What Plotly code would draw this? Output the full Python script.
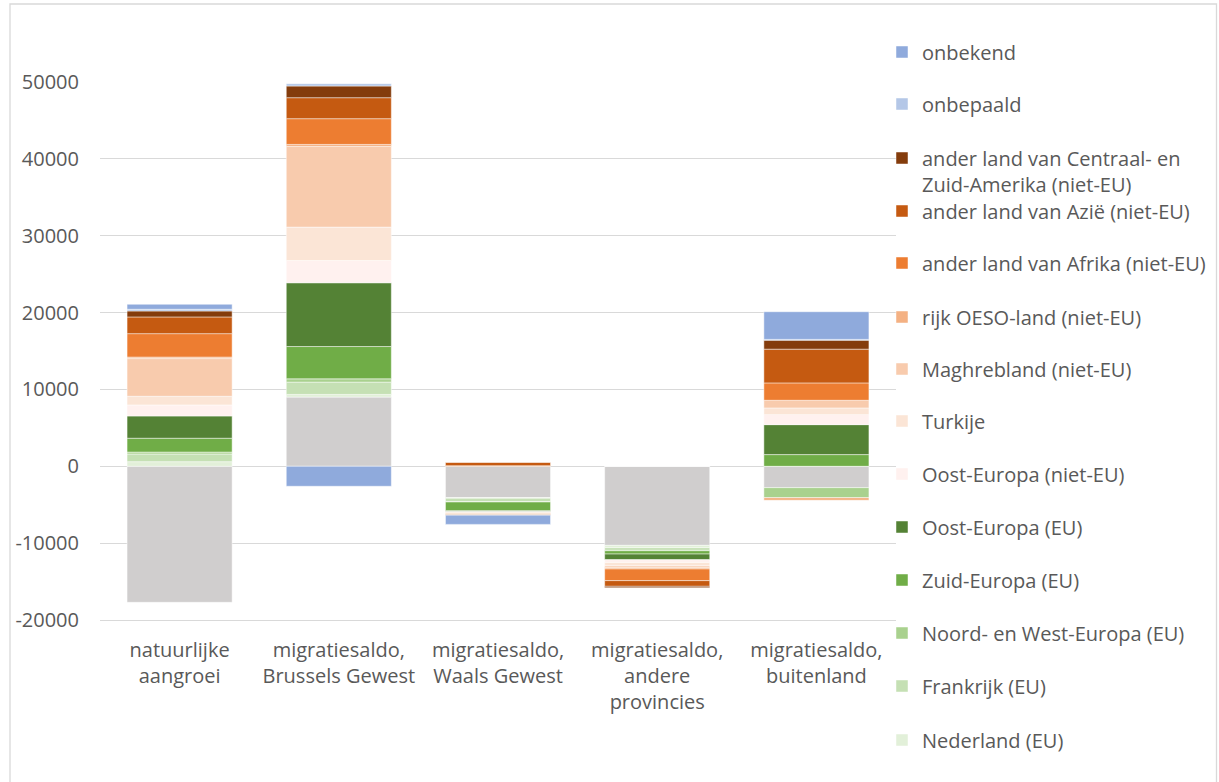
import plotly.graph_objects as go

categories = [
    "natuurlijke<br>aangroei",
    "migratiesaldo,<br>Brussels Gewest",
    "migratiesaldo,<br>Waals Gewest",
    "migratiesaldo,<br>andere<br>provincies",
    "migratiesaldo,<br>buitenland",
]

y_ticks = [-20000, -10000, 0, 10000, 20000, 30000, 40000, 50000]
y_ticklabels = ["-20000", "-10000", "0", "10000", "20000", "30000", "40000", "50000"]

# series listed bottom-to-top in stacking order
belgie = [-17700, 9000, -4080, -10290, -2780]
nederland = [600, 350, -80, -300, 0]
frankrijk = [1000, 1600, -430, -350, 0]
noord_west = [250, 430, -60, -50, -1300]
zuid_europa = [1800, 4200, -1130, -430, 1520]
oost_eu = [2900, 8300, -130, -740, 3900]
oost_niet_eu = [1430, 2900, -50, -350, 1300]
turkije = [1130, 4340, -80, -450, 870]
maghreb = [4900, 10500, -100, -200, 1000]
oeso = [200, 260, -150, -200, -350]
afrika = [3050, 3350, 80, -1520, 2260]
azie = [2170, 2730, 450, -740, 4390]
centraal_zuid_amerika = [780, 1520, -70, -170, 1170]
onbepaald = [220, 300, 0, 0, 100]
onbekend = [650, -2600, -1200, 0, 3600]

series = [
    ("België", belgie, "#D0CECE", False),
    ("Nederland (EU)", nederland, "#E2F0D9", True),
    ("Frankrijk (EU)", frankrijk, "#C5E0B4", True),
    ("Noord- en West-Europa (EU)", noord_west, "#A9D18E", True),
    ("Zuid-Europa (EU)", zuid_europa, "#70AD47", True),
    ("Oost-Europa (EU)", oost_eu, "#548235", True),
    ("Oost-Europa (niet-EU)", oost_niet_eu, "#FFF1EF", True),
    ("Turkije", turkije, "#FBE5D6", True),
    ("Maghrebland (niet-EU)", maghreb, "#F8CBAD", True),
    ("rijk OESO-land (niet-EU)", oeso, "#F4B183", True),
    ("ander land van Afrika (niet-EU)", afrika, "#ED7D31", True),
    ("ander land van Azië (niet-EU)", azie, "#C55A11", True),
    ("ander land van Centraal- en<br>Zuid-Amerika (niet-EU)", centraal_zuid_amerika, "#843C0C", True),
    ("onbepaald", onbepaald, "#B4C7E7", True),
    ("onbekend", onbekend, "#8FAADC", True),
]

# legend item vertical centres in screen pixels
legend_py = {
    "onbekend": 52, "onbepaald": 104,
    "ander land van Centraal- en<br>Zuid-Amerika (niet-EU)": 171,
    "ander land van Azië (niet-EU)": 211, "ander land van Afrika (niet-EU)": 263,
    "rijk OESO-land (niet-EU)": 317, "Maghrebland (niet-EU)": 369, "Turkije": 421,
    "Oost-Europa (niet-EU)": 474, "Oost-Europa (EU)": 527, "Zuid-Europa (EU)": 580,
    "Noord- en West-Europa (EU)": 633, "Frankrijk (EU)": 686, "Nederland (EU)": 740,
}

W, H = 1219, 782
ML, MR, MT, MB = 100, 1219 - 896, 82, 782 - 620
plot_h = H - MT - MB
plot_w = W - ML - MR

def py2paper(py):
    return (H - MB - py) / plot_h

def px2paper(px):
    return (px - ML) / plot_w

TEXT = "#595959"
FONT = "Open Sans"

fig = go.Figure()
layout_legends = {}
k = 0
for name, vals, color, show in series:
    kw = {}
    if show:
        k += 1
        lname = "legend" if k == 1 else f"legend{k}"
        kw["legend"] = lname
        layout_legends[lname] = dict(
            x=px2paper(882), xanchor="left",
            y=py2paper(legend_py[name]), yanchor="middle",
            bgcolor="rgba(0,0,0,0)",
            font=dict(family=FONT, size=20, color=TEXT),
            valign="top",
        )
    fig.add_trace(go.Bar(
        x=categories, y=vals, name=name,
        marker=dict(color=color, line=dict(color="rgba(255,255,255,0.6)", width=0.8)),
        showlegend=show, **kw,
    ))

fig.update_layout(
    barmode="relative",
    bargap=0.34,
    width=W, height=H,
    autosize=False,
    margin=dict(l=ML, r=MR, t=MT, b=MB, autoexpand=False),
    paper_bgcolor="white",
    plot_bgcolor="white",
    font=dict(family=FONT, size=20, color=TEXT),
    **layout_legends,
)

fig.update_yaxes(
    range=[-20000, 50000],
    tickvals=y_ticks, ticktext=y_ticklabels,
    showgrid=True, gridcolor="#D9D9D9", gridwidth=1.3,
    zeroline=True, zerolinecolor="#D9D9D9", zerolinewidth=1.3,
    tickfont=dict(family=FONT, size=20, color=TEXT),
    ticklabelstandoff=20,
    fixedrange=True,
)
fig.update_xaxes(
    showline=True, linecolor="#D9D9D9", linewidth=1.3,
    tickfont=dict(family=FONT, size=20, color=TEXT),
    ticklabelstandoff=12,
    fixedrange=True,
)

fig.add_shape(
    type="rect", xref="paper", yref="paper",
    x0=px2paper(10), x1=px2paper(1216.5), y0=py2paper(800), y1=py2paper(4),
    line=dict(color="#D9D9D9", width=1.3), fillcolor="rgba(0,0,0,0)", layer="below",
)

fig.write_html(
    "out.html",
    config={"displayModeBar": False},
    post_script="document.body.style.margin='0';document.body.style.overflow='hidden';",
)
